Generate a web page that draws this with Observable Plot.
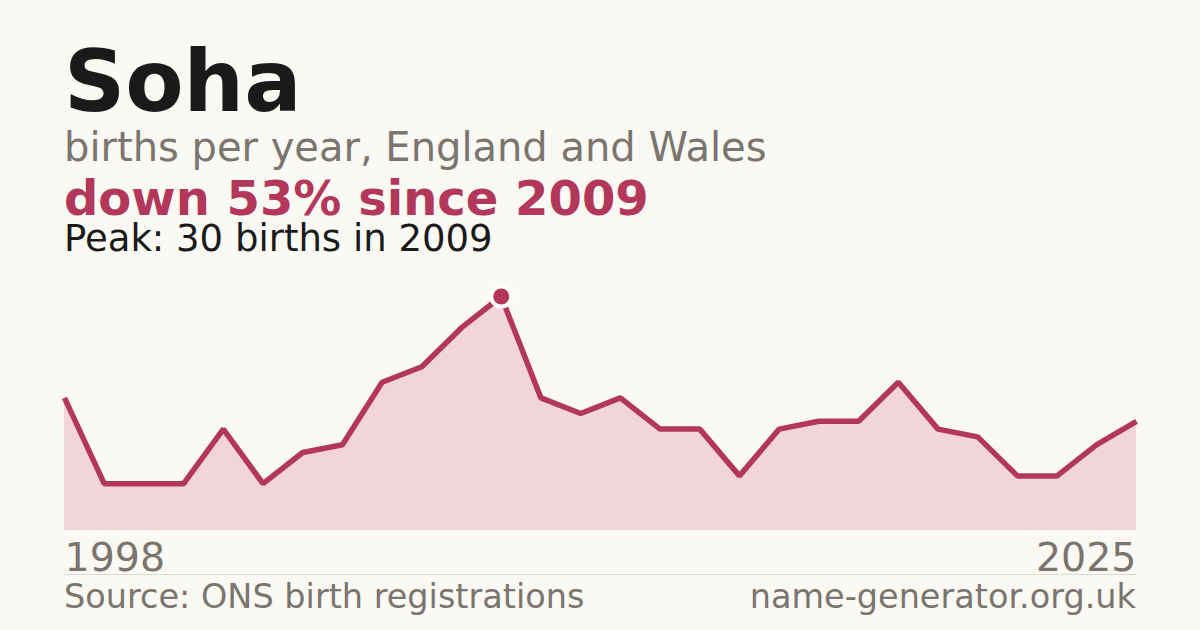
<!DOCTYPE html>
<html>
<head>
<meta charset="utf-8">
<script src="https://cdn.jsdelivr.net/npm/d3@7"></script>
<script src="https://cdn.jsdelivr.net/npm/@observablehq/plot@0.6"></script>
<style>
  html, body { margin: 0; padding: 0; }
  body { width: 1200px; height: 630px; background: #faf9f4; position: relative; overflow: hidden; font-family: "DejaVu Sans", sans-serif; }
  .t { position: absolute; left: 64px; line-height: 0.9; white-space: nowrap; }
  #title { top: 44px; font-size: 85px; font-weight: bold; color: #1a1a1a; }
  #sub { top: 129px; font-size: 40px; color: #7a756e; }
  #change { top: 177px; font-size: 48px; font-weight: bold; color: #b3375a; }
  #peak { top: 222px; font-size: 37px; color: #1a1a1a; }
  #chart { position: absolute; left: 0; top: 270px; }
  #rule { position: absolute; left: 64px; width: 1072px; top: 574px; height: 1px; background: #dcd9d2; }
  .foot { position: absolute; top: 582px; font-size: 33.5px; line-height: 0.9; color: #7a756e; white-space: nowrap; }
  #src { left: 64px; }
  #site { right: 64px; }
</style>
</head>
<body>
<div class="t" id="title"></div>
<div class="t" id="sub"></div>
<div class="t" id="change"></div>
<div class="t" id="peak"></div>
<div id="chart"></div>
<div id="rule"></div>
<div class="foot" id="src"></div>
<div class="foot" id="site"></div>
<script>
const name = "Soha";
const subtitle = "births per year, England and Wales";
const changeText = "down 53% since 2009";
const peakText = "Peak: 30 births in 2009";
const source = "Source: ONS birth registrations";
const site = "name-generator.org.uk";

const years = [1998,1999,2000,2001,2002,2003,2004,2005,2006,2007,2008,2009,2010,2011,2012,2013,2014,2015,2016,2017,2018,2019,2020,2021,2022,2023,2024,2025];
const births = [17,6,6,6,13,6,10,11,19,21,26,30,17,15,17,13,13,7,13,14,14,19,13,12,7,7,11,14];
const peakYear = 2009;
const peakValue = 30;

document.getElementById("title").textContent = name;
document.getElementById("sub").textContent = subtitle;
document.getElementById("change").textContent = changeText;
document.getElementById("peak").textContent = peakText;
document.getElementById("src").textContent = source;
document.getElementById("site").textContent = site;

const data = years.map((y, i) => ({year: y, births: births[i]}));
const red = "#b3375a";
const grey = "#7a756e";
const firstYear = years[0], lastYear = years[years.length - 1];

const chart = Plot.plot({
  width: 1200,
  height: 320,
  marginLeft: 64,
  marginRight: 64,
  marginTop: 26,
  marginBottom: 60,
  x: {domain: [firstYear, lastYear], axis: null},
  y: {domain: [0, peakValue], axis: null},
  style: {background: "transparent", fontFamily: "DejaVu Sans, sans-serif"},
  marks: [
    Plot.areaY(data, {x: "year", y: "births", fill: "#f2d5db"}),
    Plot.lineY(data, {x: "year", y: "births", stroke: red, strokeWidth: 5.5, strokeLinejoin: "miter", strokeLinecap: "butt"}),
    Plot.dot([{year: peakYear, births: peakValue}], {x: "year", y: "births", r: 10, fill: red, stroke: "#ffffff", strokeWidth: 4}),
    Plot.text([firstYear], {x: d => d, y: 0, text: d => String(d), textAnchor: "start", lineAnchor: "bottom", dy: 40, fontSize: 39.5, fill: grey}),
    Plot.text([lastYear], {x: d => d, y: 0, text: d => String(d), textAnchor: "end", lineAnchor: "bottom", dy: 40, fontSize: 39.5, fill: grey})
  ]
});
document.getElementById("chart").appendChild(chart);
</script>
</body>
</html>
